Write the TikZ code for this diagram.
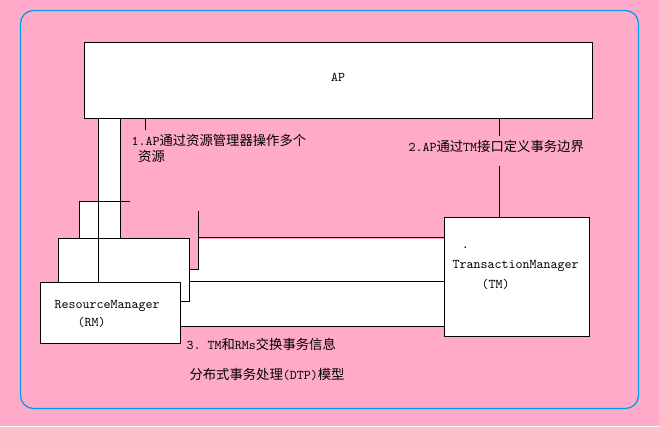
\documentclass[tikz,border=0pt]{standalone}
\usepackage{fontspec}
\usetikzlibrary{fit}
\newfontfamily\cjk{Noto Sans CJK SC}
\newcommand\zh[1]{{\cjk #1}}
\definecolor{dtppink}{RGB}{255,170,200}
\definecolor{dtpblue}{RGB}{0,160,240}

\begin{document}
\begin{tikzpicture}[
  x=0.75pt,
  y=-0.75pt,
  font=\ttfamily\frenchspacing\fontsize{10pt}{12pt}\selectfont,
  line width=0.75pt,
  box/.style={draw=black, fill=white, inner sep=0pt},
  txt/.style={anchor=west, inner sep=0pt, align=left}
]
\useasboundingbox (0,0) rectangle (659,426);
\fill[dtppink] (0,0) rectangle (659,426);
\draw[dtpblue, line width=1pt, rounded corners=9.75pt] (20.5,10.5) rectangle (638.5,408.5);

% white strip down to the RM stack, and the back RM box
\fill[white] (98,118) -- (120,118) -- (120,238) -- (79,238) -- (79,201) -- (98,201) -- cycle;
% white bands between RM and TM
\fill[white] (198,239) -- (444,239) -- (444,326) -- (180,326) -- (180,282)
  -- (189,282) -- (189,269) -- (198,269) -- cycle;

% boxes
\node[box, fit={(58,238) (189,301)}] (rmmid) {};
\node[box, fit={(40,282) (180,343)}] (rm) {};
\node[box, fit={(444,217) (589,336)}] (tm) {};
\node[box, fit={(84,42) (592,118)}] (ap) {};

\node (aptext) at (338,77) {AP};
\node[txt] (rmtext) at (54,314) {ResourceManager\\[1pt]\hspace*{17.25pt}(RM)};
\node[txt] (tmtext) at (452,268) {\hspace*{7pt}.\\[3pt]TransactionManager\\[3pt]\hspace*{21.75pt}(TM)};

% labels
\node[txt] (lbl1) at (131,148) {1.AP\zh{通过资源管理器操作多个}\\\hspace*{5pt}\zh{资源}};
\node[txt] (lbl2) at (408,146) {2.AP\zh{通过}TM\zh{接口定义事务边界}};
\node[txt] (lbl3) at (186,344) {3. TM\zh{和}RMs\zh{交换事务信息}};
\node[txt] (title) at (189,374) {\zh{分布式事务处理}(DTP)\zh{模型}};

% AP -- RM
\coordinate (stripl) at (98,0);
\coordinate (stripr) at (120,0);
\coordinate (backtop) at (130,201);
\coordinate (backleft) at (79,0);
\draw (ap.south -| stripl) -- (rm.north -| stripl);
\draw (ap.south -| stripr) -- (rmmid.north -| stripr);
\draw (backtop) -| (rmmid.north -| backleft);
\coordinate (tick1) at (145,130);
\draw (ap.south -| tick1) -- (tick1);

% AP -- TM
\coordinate (brk2a) at (499,136);
\coordinate (brk2b) at (499,166);
\draw (ap.south -| brk2a) -- (brk2a);
\draw (brk2b) -- (tm.north -| brk2b);

% TM -- RMs
\coordinate (hook) at (198,211);
\coordinate (bandlow) at (0,326);
\draw (hook) |- (rmmid.east);
\draw (hook |- rmmid.north) -- (tm.west |- rmmid.north);
\draw (rmmid.east |- rm.north) -- (tm.west |- rm.north);
\draw (rm.east |- bandlow) -- (tm.west |- bandlow);
\end{tikzpicture}
\end{document}
